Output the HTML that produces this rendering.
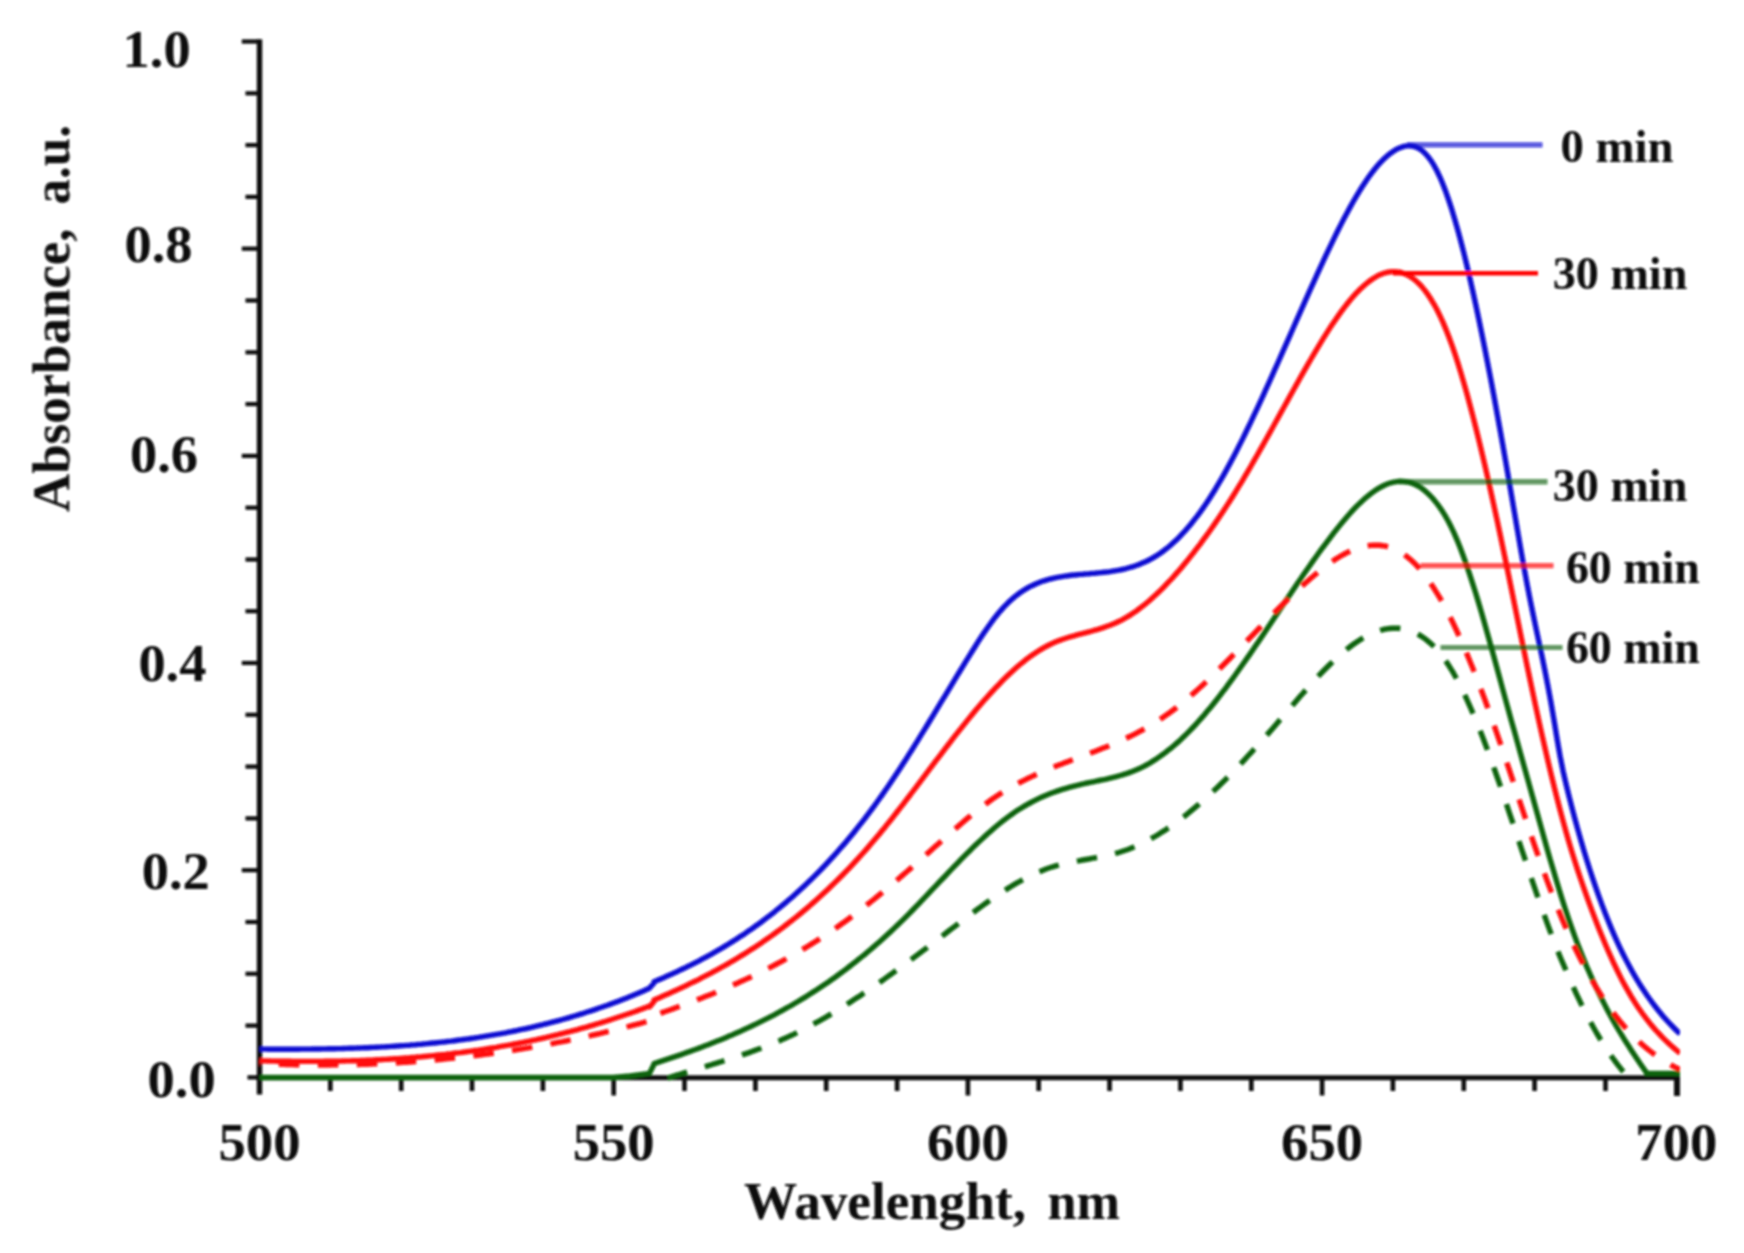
<!DOCTYPE html>
<html lang="en"><head><meta charset="utf-8"><title>Absorbance spectra</title>
<style>html,body{margin:0;padding:0;background:#fff;overflow:hidden}svg{display:block}</style></head>
<body>
<svg width="1744" height="1253" viewBox="0 0 1744 1253">
<rect width="1744" height="1253" fill="#fff"/>
<g filter="url(#bl)">
<g stroke="#0a0a0a" fill="none">
<path d="M259.5,39.3 V1094.5" stroke-width="5.4"/>
<path d="M256.8,1077.7 H1679.8999999999999" stroke-width="5.0"/>
<path d="M247.5,1077.4 H259.5" stroke-width="4.2"/>
<path d="M245.5,1025.6 H259.5" stroke-width="4.2"/>
<path d="M245.5,973.8 H259.5" stroke-width="4.2"/>
<path d="M245.5,922.0 H259.5" stroke-width="4.2"/>
<path d="M241.8,870.2 H259.5" stroke-width="4.2"/>
<path d="M245.5,818.4 H259.5" stroke-width="4.2"/>
<path d="M245.5,766.6 H259.5" stroke-width="4.2"/>
<path d="M245.5,714.8 H259.5" stroke-width="4.2"/>
<path d="M241.8,663.0 H259.5" stroke-width="4.2"/>
<path d="M245.5,611.2 H259.5" stroke-width="4.2"/>
<path d="M245.5,559.5 H259.5" stroke-width="4.2"/>
<path d="M245.5,507.7 H259.5" stroke-width="4.2"/>
<path d="M241.8,455.9 H259.5" stroke-width="4.2"/>
<path d="M245.5,404.1 H259.5" stroke-width="4.2"/>
<path d="M245.5,352.3 H259.5" stroke-width="4.2"/>
<path d="M245.5,300.5 H259.5" stroke-width="4.2"/>
<path d="M241.8,248.7 H259.5" stroke-width="4.2"/>
<path d="M245.5,196.9 H259.5" stroke-width="4.2"/>
<path d="M245.5,145.1 H259.5" stroke-width="4.2"/>
<path d="M245.5,93.3 H259.5" stroke-width="4.2"/>
<path d="M241.8,41.5 H259.5" stroke-width="4.2"/>
<path d="M330.3,1077.4 V1091" stroke-width="4.6"/>
<path d="M401.2,1077.4 V1091" stroke-width="4.6"/>
<path d="M472.0,1077.4 V1091" stroke-width="4.6"/>
<path d="M542.9,1077.4 V1091" stroke-width="4.6"/>
<path d="M613.7,1077.4 V1095.5" stroke-width="4.6"/>
<path d="M684.5,1077.4 V1091" stroke-width="4.6"/>
<path d="M755.4,1077.4 V1091" stroke-width="4.6"/>
<path d="M826.2,1077.4 V1091" stroke-width="4.6"/>
<path d="M897.1,1077.4 V1091" stroke-width="4.6"/>
<path d="M967.9,1077.4 V1095.5" stroke-width="4.6"/>
<path d="M1038.7,1077.4 V1091" stroke-width="4.6"/>
<path d="M1109.6,1077.4 V1091" stroke-width="4.6"/>
<path d="M1180.4,1077.4 V1091" stroke-width="4.6"/>
<path d="M1251.3,1077.4 V1091" stroke-width="4.6"/>
<path d="M1322.1,1077.4 V1095.5" stroke-width="4.6"/>
<path d="M1392.9,1077.4 V1091" stroke-width="4.6"/>
<path d="M1463.8,1077.4 V1091" stroke-width="4.6"/>
<path d="M1534.6,1077.4 V1091" stroke-width="4.6"/>
<path d="M1605.5,1077.4 V1091" stroke-width="4.6"/>
<path d="M1677,1077.4 V1096.0" stroke-width="6"/>
</g>
<g fill="none" stroke-linejoin="round">
<clipPath id="cp"><rect x="256" y="0" width="1424" height="1082"/></clipPath>
<g clip-path="url(#cp)">
<path d="M667.8,1078.1 L670.8,1077.1 L673.8,1076.1 L676.8,1075.2 L679.8,1074.3 L682.8,1073.3 L685.8,1072.4 L688.8,1071.5 L691.9,1070.6 L694.9,1069.7 L697.9,1068.8 L700.9,1067.9 L703.9,1067.0 L706.9,1066.1 L709.9,1065.2 L712.9,1064.2 L715.9,1063.3 L718.9,1062.4 L721.9,1061.5 L724.9,1060.5 L727.9,1059.6 L730.9,1058.6 L734.0,1057.6 L737.0,1056.7 L740.0,1055.7 L743.0,1054.6 L746.0,1053.6 L749.0,1052.6 L752.0,1051.5 L755.0,1050.4 L758.0,1049.3 L761.0,1048.2 L764.0,1047.0 L767.0,1045.9 L770.0,1044.7 L773.0,1043.5 L776.0,1042.2 L779.1,1040.9 L782.1,1039.6 L785.1,1038.3 L788.1,1036.9 L791.1,1035.5 L794.1,1034.1 L797.1,1032.6 L800.1,1031.1 L803.1,1029.6 L806.1,1028.1 L809.1,1026.5 L812.1,1024.9 L815.1,1023.2 L818.1,1021.6 L821.2,1019.9 L824.2,1018.2 L827.2,1016.4 L830.2,1014.6 L833.2,1012.8 L836.2,1011.0 L839.2,1009.2 L842.2,1007.3 L845.2,1005.4 L848.2,1003.5 L851.2,1001.6 L854.2,999.6 L857.2,997.6 L860.2,995.7 L863.2,993.6 L866.3,991.6 L869.3,989.6 L872.3,987.5 L875.3,985.4 L878.3,983.3 L881.3,981.2 L884.3,979.1 L887.3,976.9 L890.3,974.8 L893.3,972.6 L896.3,970.4 L899.3,968.2 L902.3,966.0 L905.3,963.8 L908.4,961.6 L911.4,959.4 L914.4,957.1 L917.4,954.9 L920.4,952.6 L923.4,950.4 L926.4,948.1 L929.4,945.8 L932.4,943.5 L935.4,941.2 L938.4,938.9 L941.4,936.6 L944.4,934.3 L947.4,932.0 L950.4,929.7 L953.5,927.4 L956.5,925.1 L959.5,922.8 L962.5,920.5 L965.5,918.3 L968.5,916.0 L971.5,913.7 L974.5,911.5 L977.5,909.3 L980.5,907.1 L983.5,904.9 L986.5,902.7 L989.5,900.6 L992.5,898.5 L995.6,896.5 L998.6,894.4 L1001.6,892.4 L1004.6,890.5 L1007.6,888.6 L1010.6,886.7 L1013.6,884.9 L1016.6,883.2 L1019.6,881.5 L1022.6,879.8 L1025.6,878.2 L1028.6,876.7 L1031.6,875.2 L1034.6,873.8 L1037.6,872.4 L1040.7,871.2 L1043.7,870.0 L1046.7,868.8 L1049.7,867.8 L1052.7,866.8 L1055.7,865.9 L1058.7,865.1 L1061.7,864.3 L1064.7,863.6 L1067.7,862.9 L1070.7,862.3 L1073.7,861.7 L1076.7,861.1 L1079.7,860.6 L1082.8,860.0 L1085.8,859.5 L1088.8,859.0 L1091.8,858.4 L1094.8,857.9 L1097.8,857.4 L1100.8,856.8 L1103.8,856.2 L1106.8,855.5 L1109.8,854.8 L1112.8,854.1 L1115.8,853.3 L1118.8,852.5 L1121.8,851.5 L1124.8,850.5 L1127.9,849.5 L1130.9,848.3 L1133.9,847.1 L1136.9,845.8 L1139.9,844.4 L1142.9,843.0 L1145.9,841.4 L1148.9,839.9 L1151.9,838.2 L1154.9,836.5 L1157.9,834.7 L1160.9,832.8 L1163.9,830.9 L1166.9,828.9 L1170.0,826.9 L1173.0,824.8 L1176.0,822.6 L1179.0,820.4 L1182.0,818.1 L1185.0,815.8 L1188.0,813.4 L1191.0,810.9 L1194.0,808.4 L1197.0,805.9 L1200.0,803.3 L1203.0,800.6 L1206.0,797.9 L1209.0,795.2 L1212.0,792.4 L1215.1,789.6 L1218.1,786.7 L1221.1,783.8 L1224.1,780.8 L1227.1,777.8 L1230.1,774.8 L1233.1,771.7 L1236.1,768.6 L1239.1,765.5 L1242.1,762.3 L1245.1,759.1 L1248.1,755.8 L1251.1,752.6 L1254.1,749.3 L1257.2,745.9 L1260.2,742.6 L1263.2,739.2 L1266.2,735.8 L1269.2,732.4 L1272.2,728.9 L1275.2,725.4 L1278.2,721.9 L1281.2,718.4 L1284.2,714.9 L1287.2,711.4 L1290.2,707.9 L1293.2,704.4 L1296.2,700.9 L1299.2,697.4 L1302.3,694.0 L1305.3,690.6 L1308.3,687.2 L1311.3,683.9 L1314.3,680.6 L1317.3,677.3 L1320.3,674.1 L1323.3,671.0 L1326.3,668.0 L1329.3,665.0 L1332.3,662.1 L1335.3,659.2 L1338.3,656.5 L1341.3,653.8 L1344.4,651.3 L1347.4,648.8 L1350.4,646.5 L1353.4,644.3 L1356.4,642.2 L1359.4,640.2 L1362.4,638.4 L1365.4,636.7 L1368.4,635.1 L1371.4,633.7 L1374.4,632.4 L1377.4,631.3 L1380.4,630.3 L1383.4,629.5 L1386.4,628.9 L1389.5,628.5 L1392.5,628.2 L1395.5,628.2 L1398.5,628.3 L1401.5,628.6 L1404.5,629.1 L1407.5,629.9 L1410.5,630.8 L1413.5,632.0 L1416.5,633.4 L1419.5,635.1 L1422.5,637.0 L1425.5,639.1 L1428.5,641.6 L1431.6,644.3 L1434.6,647.2 L1437.6,650.5 L1440.6,654.1 L1443.6,658.0 L1446.6,662.2 L1449.6,666.8 L1452.6,671.7 L1455.6,677.0 L1458.6,682.5 L1461.6,688.4 L1464.6,694.6 L1467.6,701.1 L1470.6,707.8 L1473.6,714.9 L1476.7,722.1 L1479.7,729.6 L1482.7,737.3 L1485.7,745.2 L1488.7,753.3 L1491.7,761.6 L1494.7,770.0 L1497.7,778.5 L1500.7,787.2 L1503.7,796.0 L1506.7,804.9 L1509.7,813.8 L1512.7,822.7 L1515.7,831.7 L1518.8,840.8 L1521.8,849.8 L1524.8,858.7 L1527.8,867.7 L1530.8,876.6 L1533.8,885.4 L1536.8,894.1 L1539.8,902.7 L1542.8,911.1 L1545.8,919.4 L1548.8,927.6 L1551.8,935.6 L1554.8,943.3 L1557.8,951.0 L1560.8,958.4 L1563.9,965.6 L1566.9,972.7 L1569.9,979.6 L1572.9,986.3 L1575.9,992.9 L1578.9,999.2 L1581.9,1005.4 L1584.9,1011.4 L1587.9,1017.2 L1590.9,1022.8 L1593.9,1028.2 L1596.9,1033.5 L1599.9,1038.5 L1602.9,1043.4 L1606.0,1048.1 L1609.0,1052.6 L1612.0,1057.0 L1615.0,1061.1 L1618.0,1065.1 L1621.0,1068.9 L1624.0,1072.4 L1627.0,1075.8" stroke="#0b640b" stroke-width="5.4" stroke-dasharray="20.5 18.5" stroke-dashoffset="0.25"/>
<path d="M259.5,1077.5 L613.0,1077.5 L630.0,1076.0 L649.5,1073.4 L654.0,1064.2 L654.0,1063.5 L657.0,1062.6 L660.0,1061.6 L663.0,1060.6 L666.0,1059.6 L669.0,1058.6 L672.0,1057.6 L675.1,1056.6 L678.1,1055.6 L681.1,1054.6 L684.1,1053.5 L687.1,1052.4 L690.1,1051.4 L693.1,1050.3 L696.1,1049.2 L699.1,1048.1 L702.1,1047.0 L705.1,1045.8 L708.1,1044.7 L711.1,1043.5 L714.2,1042.3 L717.2,1041.1 L720.2,1039.9 L723.2,1038.7 L726.2,1037.4 L729.2,1036.1 L732.2,1034.9 L735.2,1033.5 L738.2,1032.2 L741.2,1030.9 L744.2,1029.5 L747.2,1028.1 L750.3,1026.7 L753.3,1025.3 L756.3,1023.9 L759.3,1022.4 L762.3,1020.9 L765.3,1019.4 L768.3,1017.9 L771.3,1016.3 L774.3,1014.8 L777.3,1013.2 L780.3,1011.5 L783.3,1009.9 L786.3,1008.2 L789.4,1006.5 L792.4,1004.8 L795.4,1003.0 L798.4,1001.2 L801.4,999.4 L804.4,997.6 L807.4,995.7 L810.4,993.8 L813.4,991.9 L816.4,990.0 L819.4,988.0 L822.4,986.0 L825.4,984.0 L828.5,981.9 L831.5,979.8 L834.5,977.7 L837.5,975.5 L840.5,973.3 L843.5,971.1 L846.5,968.8 L849.5,966.5 L852.5,964.2 L855.5,961.8 L858.5,959.4 L861.5,957.0 L864.6,954.6 L867.6,952.0 L870.6,949.5 L873.6,946.9 L876.6,944.3 L879.6,941.7 L882.6,939.0 L885.6,936.3 L888.6,933.5 L891.6,930.7 L894.6,927.9 L897.6,925.0 L900.6,922.1 L903.7,919.1 L906.7,916.1 L909.7,913.1 L912.7,910.0 L915.7,906.9 L918.7,903.8 L921.7,900.7 L924.7,897.5 L927.7,894.4 L930.7,891.2 L933.7,888.0 L936.7,884.9 L939.7,881.7 L942.8,878.5 L945.8,875.3 L948.8,872.2 L951.8,869.0 L954.8,865.9 L957.8,862.8 L960.8,859.7 L963.8,856.7 L966.8,853.6 L969.8,850.7 L972.8,847.7 L975.8,844.8 L978.9,841.9 L981.9,839.1 L984.9,836.3 L987.9,833.6 L990.9,830.9 L993.9,828.3 L996.9,825.8 L999.9,823.3 L1002.9,820.9 L1005.9,818.6 L1008.9,816.4 L1011.9,814.2 L1014.9,812.1 L1018.0,810.1 L1021.0,808.2 L1024.0,806.4 L1027.0,804.6 L1030.0,803.0 L1033.0,801.4 L1036.0,799.9 L1039.0,798.4 L1042.0,797.0 L1045.0,795.7 L1048.0,794.5 L1051.0,793.3 L1054.0,792.2 L1057.1,791.1 L1060.1,790.1 L1063.1,789.2 L1066.1,788.3 L1069.1,787.4 L1072.1,786.6 L1075.1,785.8 L1078.1,785.1 L1081.1,784.3 L1084.1,783.7 L1087.1,783.0 L1090.1,782.4 L1093.2,781.8 L1096.2,781.2 L1099.2,780.5 L1102.2,779.9 L1105.2,779.3 L1108.2,778.6 L1111.2,777.9 L1114.2,777.2 L1117.2,776.4 L1120.2,775.5 L1123.2,774.6 L1126.2,773.7 L1129.2,772.6 L1132.3,771.5 L1135.3,770.3 L1138.3,769.0 L1141.3,767.6 L1144.3,766.1 L1147.3,764.5 L1150.3,762.8 L1153.3,760.9 L1156.3,759.0 L1159.3,756.9 L1162.3,754.8 L1165.3,752.6 L1168.3,750.2 L1171.4,747.8 L1174.4,745.2 L1177.4,742.6 L1180.4,739.9 L1183.4,737.0 L1186.4,734.1 L1189.4,731.1 L1192.4,728.0 L1195.4,724.8 L1198.4,721.5 L1201.4,718.1 L1204.4,714.7 L1207.4,711.1 L1210.5,707.5 L1213.5,703.8 L1216.5,700.0 L1219.5,696.2 L1222.5,692.2 L1225.5,688.3 L1228.5,684.2 L1231.5,680.1 L1234.5,676.0 L1237.5,671.8 L1240.5,667.5 L1243.5,663.3 L1246.6,658.9 L1249.6,654.6 L1252.6,650.2 L1255.6,645.8 L1258.6,641.4 L1261.6,636.9 L1264.6,632.4 L1267.6,627.9 L1270.6,623.4 L1273.6,618.9 L1276.6,614.4 L1279.6,609.9 L1282.6,605.4 L1285.7,600.9 L1288.7,596.4 L1291.7,592.0 L1294.7,587.5 L1297.7,583.1 L1300.7,578.7 L1303.7,574.3 L1306.7,570.0 L1309.7,565.7 L1312.7,561.4 L1315.7,557.2 L1318.7,553.0 L1321.7,548.9 L1324.8,544.8 L1327.8,540.8 L1330.8,536.8 L1333.8,532.9 L1336.8,529.1 L1339.8,525.4 L1342.8,521.7 L1345.8,518.2 L1348.8,514.7 L1351.8,511.4 L1354.8,508.2 L1357.8,505.1 L1360.9,502.2 L1363.9,499.4 L1366.9,496.8 L1369.9,494.4 L1372.9,492.1 L1375.9,490.0 L1378.9,488.1 L1381.9,486.5 L1384.9,485.0 L1387.9,483.8 L1390.9,482.8 L1393.9,482.1 L1396.9,481.6 L1400.0,481.3 L1403.0,481.4 L1406.0,481.7 L1409.0,482.3 L1412.0,483.2 L1415.0,484.4 L1418.0,486.0 L1421.0,487.8 L1424.0,490.0 L1427.0,492.6 L1430.0,495.5 L1433.0,498.7 L1436.0,502.4 L1439.1,506.4 L1442.1,510.8 L1445.1,515.7 L1448.1,521.0 L1451.1,526.8 L1454.1,533.2 L1457.1,540.1 L1460.1,547.5 L1463.1,555.5 L1466.1,563.9 L1469.1,572.7 L1472.1,581.9 L1475.2,591.5 L1478.2,601.4 L1481.2,611.6 L1484.2,622.0 L1487.2,632.7 L1490.2,643.4 L1493.2,654.3 L1496.2,665.3 L1499.2,676.3 L1502.2,687.4 L1505.2,698.4 L1508.2,709.3 L1511.2,720.2 L1514.3,731.1 L1517.3,741.9 L1520.3,752.7 L1523.3,763.4 L1526.3,774.2 L1529.3,784.9 L1532.3,795.7 L1535.3,806.4 L1538.3,817.2 L1541.3,828.0 L1544.3,838.7 L1547.3,849.4 L1550.3,859.9 L1553.4,870.3 L1556.4,880.5 L1559.4,890.4 L1562.4,900.1 L1565.4,909.4 L1568.4,918.3 L1571.4,927.0 L1574.4,935.3 L1577.4,943.4 L1580.4,951.1 L1583.4,958.6 L1586.4,965.9 L1589.5,972.9 L1592.5,979.6 L1595.5,986.1 L1598.5,992.4 L1601.5,998.5 L1604.5,1004.4 L1607.5,1010.2 L1610.5,1015.7 L1613.5,1021.1 L1616.5,1026.4 L1619.5,1031.5 L1622.5,1036.4 L1625.5,1041.3 L1628.6,1046.0 L1631.6,1050.7 L1634.6,1055.3 L1637.6,1059.8 L1640.6,1064.2 L1643.6,1068.6 L1646.6,1072.9 L1646.6,1073.5 L1680.0,1073.5" stroke="#0b640b" stroke-width="5.4"/>
<path d="M259.5,1063.5 L262.5,1063.6 L265.5,1063.7 L268.5,1063.9 L271.5,1064.0 L274.5,1064.1 L277.5,1064.2 L280.5,1064.3 L283.5,1064.4 L286.5,1064.5 L289.5,1064.6 L292.5,1064.6 L295.5,1064.7 L298.5,1064.8 L301.5,1064.8 L304.5,1064.9 L307.5,1064.9 L310.5,1064.9 L313.5,1064.9 L316.5,1065.0 L319.5,1065.0 L322.5,1065.0 L325.5,1065.0 L328.5,1065.0 L331.5,1064.9 L334.5,1064.9 L337.5,1064.9 L340.5,1064.8 L343.5,1064.8 L346.5,1064.7 L349.5,1064.7 L352.5,1064.6 L355.5,1064.5 L358.5,1064.5 L361.5,1064.4 L364.5,1064.3 L367.5,1064.2 L370.5,1064.1 L373.5,1063.9 L376.5,1063.8 L379.5,1063.7 L382.5,1063.5 L385.5,1063.4 L388.5,1063.2 L391.5,1063.1 L394.5,1062.9 L397.5,1062.7 L400.5,1062.6 L403.5,1062.4 L406.5,1062.2 L409.5,1062.0 L412.5,1061.8 L415.5,1061.5 L418.5,1061.3 L421.5,1061.1 L424.5,1060.8 L427.5,1060.6 L430.5,1060.3 L433.5,1060.1 L436.5,1059.8 L439.5,1059.5 L442.5,1059.2 L445.5,1058.9 L448.5,1058.6 L451.5,1058.3 L454.5,1058.0 L457.5,1057.7 L460.5,1057.4 L463.5,1057.0 L466.5,1056.7 L469.5,1056.3 L472.5,1056.0 L475.5,1055.6 L478.5,1055.2 L481.5,1054.8 L484.5,1054.4 L487.5,1054.0 L490.5,1053.6 L493.5,1053.2 L496.5,1052.8 L499.5,1052.4 L502.5,1051.9 L505.5,1051.5 L508.5,1051.0 L511.5,1050.6 L514.5,1050.1 L517.5,1049.6 L520.5,1049.1 L523.5,1048.6 L526.5,1048.1 L529.5,1047.6 L532.5,1047.1 L535.5,1046.6 L538.5,1046.1 L541.5,1045.5 L544.5,1045.0 L547.5,1044.4 L550.5,1043.9 L553.5,1043.3 L556.5,1042.7 L559.5,1042.1 L562.5,1041.6 L565.5,1041.0 L568.5,1040.3 L571.5,1039.7 L574.5,1039.1 L577.5,1038.5 L580.5,1037.8 L583.5,1037.2 L586.5,1036.5 L589.5,1035.9 L592.5,1035.2 L595.5,1034.5 L598.5,1033.8 L601.5,1033.1 L604.5,1032.4 L607.5,1031.7 L610.5,1031.0 L613.5,1030.3 L616.5,1029.5 L619.5,1028.8 L622.5,1028.0 L625.5,1027.3 L628.5,1026.5 L631.5,1025.7 L634.5,1024.9 L637.5,1024.1 L640.5,1023.3 L643.5,1022.5 L646.5,1021.7 L649.5,1020.9 L649.5,1017.1 L652.5,1016.0 L655.5,1015.0 L658.5,1014.0 L661.5,1012.9 L664.5,1011.8 L667.5,1010.8 L670.5,1009.7 L673.5,1008.6 L676.5,1007.5 L679.5,1006.4 L682.5,1005.3 L685.6,1004.2 L688.6,1003.1 L691.6,1001.9 L694.6,1000.8 L697.6,999.6 L700.6,998.5 L703.6,997.3 L706.6,996.1 L709.6,994.9 L712.6,993.7 L715.6,992.5 L718.6,991.2 L721.6,990.0 L724.6,988.7 L727.6,987.4 L730.6,986.1 L733.6,984.8 L736.6,983.5 L739.6,982.1 L742.6,980.8 L745.6,979.4 L748.6,978.0 L751.6,976.6 L754.7,975.1 L757.7,973.7 L760.7,972.2 L763.7,970.7 L766.7,969.2 L769.7,967.7 L772.7,966.1 L775.7,964.5 L778.7,962.9 L781.7,961.3 L784.7,959.7 L787.7,958.0 L790.7,956.4 L793.7,954.6 L796.7,952.9 L799.7,951.2 L802.7,949.4 L805.7,947.6 L808.7,945.8 L811.7,943.9 L814.7,942.0 L817.7,940.1 L820.7,938.2 L823.8,936.2 L826.8,934.2 L829.8,932.2 L832.8,930.2 L835.8,928.1 L838.8,926.0 L841.8,923.8 L844.8,921.7 L847.8,919.5 L850.8,917.3 L853.8,915.0 L856.8,912.7 L859.8,910.4 L862.8,908.1 L865.8,905.8 L868.8,903.4 L871.8,901.0 L874.8,898.6 L877.8,896.1 L880.8,893.7 L883.8,891.2 L886.8,888.7 L889.8,886.2 L892.9,883.6 L895.9,881.1 L898.9,878.5 L901.9,875.9 L904.9,873.3 L907.9,870.7 L910.9,868.1 L913.9,865.5 L916.9,862.8 L919.9,860.2 L922.9,857.5 L925.9,854.9 L928.9,852.2 L931.9,849.5 L934.9,846.8 L937.9,844.2 L940.9,841.5 L943.9,838.8 L946.9,836.1 L949.9,833.5 L952.9,830.8 L955.9,828.2 L959.0,825.6 L962.0,823.0 L965.0,820.4 L968.0,817.9 L971.0,815.4 L974.0,813.0 L977.0,810.6 L980.0,808.2 L983.0,805.9 L986.0,803.7 L989.0,801.5 L992.0,799.3 L995.0,797.3 L998.0,795.3 L1001.0,793.3 L1004.0,791.4 L1007.0,789.6 L1010.0,787.9 L1013.0,786.2 L1016.0,784.5 L1019.0,782.9 L1022.0,781.3 L1025.0,779.8 L1028.1,778.3 L1031.1,776.9 L1034.1,775.5 L1037.1,774.1 L1040.1,772.8 L1043.1,771.5 L1046.1,770.2 L1049.1,769.0 L1052.1,767.7 L1055.1,766.5 L1058.1,765.3 L1061.1,764.2 L1064.1,763.0 L1067.1,761.9 L1070.1,760.7 L1073.1,759.6 L1076.1,758.5 L1079.1,757.3 L1082.1,756.2 L1085.1,755.1 L1088.1,754.0 L1091.1,752.8 L1094.1,751.7 L1097.2,750.5 L1100.2,749.3 L1103.2,748.1 L1106.2,746.9 L1109.2,745.7 L1112.2,744.4 L1115.2,743.2 L1118.2,741.9 L1121.2,740.5 L1124.2,739.1 L1127.2,737.7 L1130.2,736.3 L1133.2,734.8 L1136.2,733.3 L1139.2,731.7 L1142.2,730.1 L1145.2,728.4 L1148.2,726.7 L1151.2,724.9 L1154.2,723.1 L1157.2,721.2 L1160.2,719.2 L1163.2,717.2 L1166.3,715.1 L1169.3,713.0 L1172.3,710.8 L1175.3,708.5 L1178.3,706.1 L1181.3,703.7 L1184.3,701.3 L1187.3,698.7 L1190.3,696.2 L1193.3,693.5 L1196.3,690.9 L1199.3,688.1 L1202.3,685.4 L1205.3,682.6 L1208.3,679.7 L1211.3,676.8 L1214.3,673.9 L1217.3,671.0 L1220.3,668.0 L1223.3,665.0 L1226.3,662.0 L1229.3,659.0 L1232.3,655.9 L1235.4,652.9 L1238.4,649.8 L1241.4,646.7 L1244.4,643.6 L1247.4,640.5 L1250.4,637.4 L1253.4,634.3 L1256.4,631.1 L1259.4,628.0 L1262.4,625.0 L1265.4,621.9 L1268.4,618.8 L1271.4,615.7 L1274.4,612.7 L1277.4,609.7 L1280.4,606.7 L1283.4,603.7 L1286.4,600.8 L1289.4,597.9 L1292.4,595.0 L1295.4,592.1 L1298.4,589.3 L1301.4,586.6 L1304.5,583.8 L1307.5,581.2 L1310.5,578.5 L1313.5,576.0 L1316.5,573.5 L1319.5,571.0 L1322.5,568.6 L1325.5,566.3 L1328.5,564.1 L1331.5,562.0 L1334.5,559.9 L1337.5,558.0 L1340.5,556.2 L1343.5,554.5 L1346.5,552.9 L1349.5,551.5 L1352.5,550.1 L1355.5,549.0 L1358.5,547.9 L1361.5,547.0 L1364.5,546.3 L1367.5,545.8 L1370.5,545.4 L1373.6,545.2 L1376.6,545.1 L1379.6,545.3 L1382.6,545.7 L1385.6,546.2 L1388.6,547.0 L1391.6,548.0 L1394.6,549.2 L1397.6,550.7 L1400.6,552.3 L1403.6,554.2 L1406.6,556.4 L1409.6,558.8 L1412.6,561.5 L1415.6,564.4 L1418.6,567.6 L1421.6,571.1 L1424.6,574.9 L1427.6,578.9 L1430.6,583.2 L1433.6,587.8 L1436.6,592.6 L1439.7,597.6 L1442.7,603.0 L1445.7,608.5 L1448.7,614.3 L1451.7,620.3 L1454.7,626.5 L1457.7,633.0 L1460.7,639.6 L1463.7,646.4 L1466.7,653.4 L1469.7,660.7 L1472.7,668.1 L1475.7,675.6 L1478.7,683.3 L1481.7,691.2 L1484.7,699.3 L1487.7,707.5 L1490.7,715.8 L1493.7,724.3 L1496.7,732.9 L1499.7,741.6 L1502.7,750.4 L1505.7,759.3 L1508.8,768.3 L1511.8,777.4 L1514.8,786.4 L1517.8,795.5 L1520.8,804.6 L1523.8,813.6 L1526.8,822.6 L1529.8,831.5 L1532.8,840.3 L1535.8,849.0 L1538.8,857.6 L1541.8,866.1 L1544.8,874.4 L1547.8,882.6 L1550.8,890.5 L1553.8,898.4 L1556.8,906.0 L1559.8,913.4 L1562.8,920.7 L1565.8,927.7 L1568.8,934.5 L1571.8,941.1 L1574.8,947.5 L1577.9,953.7 L1580.9,959.7 L1583.9,965.5 L1586.9,971.1 L1589.9,976.5 L1592.9,981.7 L1595.9,986.8 L1598.9,991.7 L1601.9,996.4 L1604.9,1000.9 L1607.9,1005.3 L1610.9,1009.5 L1613.9,1013.5 L1616.9,1017.4 L1619.9,1021.2 L1622.9,1024.7 L1625.9,1028.2 L1628.9,1031.5 L1631.9,1034.7 L1634.9,1037.7 L1637.9,1040.6 L1640.9,1043.4 L1643.9,1046.0 L1647.0,1048.6 L1650.0,1051.0 L1653.0,1053.3 L1656.0,1055.5 L1659.0,1057.6 L1662.0,1059.6 L1665.0,1061.4 L1668.0,1063.2 L1671.0,1065.0 L1674.0,1066.6 L1677.0,1068.1 L1680.0,1069.6" stroke="#ff0a0a" stroke-width="5.4" stroke-dasharray="20.5 18.5" stroke-dashoffset="19.65"/>
<path d="M259.5,1060.8 L262.5,1060.9 L265.5,1060.9 L268.5,1061.0 L271.5,1061.1 L274.5,1061.1 L277.5,1061.2 L280.5,1061.2 L283.5,1061.3 L286.5,1061.3 L289.5,1061.3 L292.5,1061.4 L295.5,1061.4 L298.5,1061.4 L301.5,1061.4 L304.5,1061.4 L307.5,1061.4 L310.5,1061.4 L313.5,1061.4 L316.5,1061.4 L319.5,1061.4 L322.5,1061.4 L325.5,1061.3 L328.5,1061.3 L331.5,1061.3 L334.5,1061.2 L337.5,1061.2 L340.5,1061.1 L343.5,1061.0 L346.5,1060.9 L349.5,1060.9 L352.5,1060.8 L355.5,1060.7 L358.5,1060.6 L361.5,1060.5 L364.5,1060.4 L367.5,1060.2 L370.5,1060.1 L373.5,1060.0 L376.5,1059.8 L379.5,1059.7 L382.5,1059.5 L385.5,1059.4 L388.5,1059.2 L391.5,1059.0 L394.5,1058.8 L397.5,1058.6 L400.5,1058.4 L403.5,1058.2 L406.5,1058.0 L409.5,1057.8 L412.5,1057.5 L415.5,1057.3 L418.5,1057.0 L421.5,1056.8 L424.5,1056.5 L427.5,1056.2 L430.5,1055.9 L433.5,1055.6 L436.5,1055.3 L439.5,1055.0 L442.5,1054.7 L445.5,1054.4 L448.5,1054.0 L451.5,1053.7 L454.5,1053.3 L457.5,1052.9 L460.5,1052.6 L463.5,1052.2 L466.5,1051.8 L469.5,1051.4 L472.5,1051.0 L475.5,1050.5 L478.5,1050.1 L481.5,1049.6 L484.5,1049.2 L487.5,1048.7 L490.5,1048.2 L493.5,1047.8 L496.5,1047.3 L499.5,1046.7 L502.5,1046.2 L505.5,1045.7 L508.5,1045.2 L511.5,1044.6 L514.5,1044.0 L517.5,1043.5 L520.5,1042.9 L523.5,1042.3 L526.5,1041.7 L529.5,1041.1 L532.5,1040.4 L535.5,1039.8 L538.5,1039.1 L541.5,1038.5 L544.5,1037.8 L547.5,1037.1 L550.5,1036.4 L553.5,1035.7 L556.5,1035.0 L559.5,1034.2 L562.5,1033.5 L565.5,1032.7 L568.5,1032.0 L571.5,1031.2 L574.5,1030.4 L577.5,1029.6 L580.5,1028.7 L583.5,1027.9 L586.5,1027.1 L589.5,1026.2 L592.5,1025.3 L595.5,1024.4 L598.5,1023.5 L601.5,1022.6 L604.5,1021.7 L607.5,1020.7 L610.5,1019.8 L613.5,1018.8 L616.5,1017.8 L619.5,1016.8 L622.5,1015.8 L625.5,1014.8 L628.5,1013.8 L631.5,1012.7 L634.5,1011.7 L637.5,1010.6 L640.5,1009.5 L643.5,1008.4 L646.5,1007.3 L649.5,1006.1 L649.5,1006.9 L654.0,1001.5 L654.0,1000.0 L657.0,998.7 L660.0,997.4 L663.0,996.1 L666.0,994.8 L669.0,993.5 L672.0,992.1 L675.0,990.8 L678.0,989.4 L681.0,988.0 L684.0,986.6 L687.0,985.2 L690.0,983.7 L693.0,982.2 L696.0,980.8 L699.0,979.3 L702.0,977.7 L705.0,976.2 L708.0,974.6 L711.0,973.1 L714.0,971.4 L717.0,969.8 L720.0,968.2 L723.0,966.5 L726.0,964.8 L729.0,963.1 L732.0,961.3 L735.0,959.6 L738.0,957.8 L741.0,955.9 L744.0,954.1 L747.0,952.2 L750.0,950.3 L753.0,948.4 L756.0,946.4 L759.0,944.4 L762.0,942.4 L765.0,940.3 L768.0,938.2 L771.0,936.1 L774.0,934.0 L777.0,931.8 L780.0,929.6 L783.0,927.3 L786.0,925.0 L789.0,922.7 L792.0,920.4 L795.0,918.0 L798.0,915.6 L801.0,913.1 L804.0,910.6 L807.0,908.1 L810.0,905.5 L813.0,902.9 L816.0,900.2 L819.0,897.5 L822.0,894.8 L825.0,892.0 L828.0,889.2 L831.0,886.3 L834.0,883.4 L837.0,880.5 L840.0,877.5 L843.0,874.5 L846.0,871.4 L849.0,868.3 L852.0,865.1 L855.0,861.9 L858.0,858.6 L861.0,855.3 L864.0,852.0 L867.0,848.6 L870.0,845.1 L873.0,841.6 L876.0,838.1 L879.0,834.5 L882.0,830.8 L885.0,827.2 L888.0,823.4 L891.0,819.7 L894.0,815.9 L897.0,812.0 L900.0,808.2 L903.0,804.3 L906.0,800.4 L909.0,796.5 L912.0,792.5 L915.0,788.6 L918.0,784.6 L921.0,780.6 L924.0,776.6 L927.0,772.7 L930.0,768.7 L933.0,764.7 L936.0,760.7 L939.0,756.8 L942.0,752.8 L945.0,748.9 L948.0,745.0 L951.0,741.1 L954.0,737.2 L957.0,733.4 L960.0,729.6 L963.0,725.8 L966.0,722.1 L969.0,718.4 L972.0,714.7 L975.0,711.1 L978.0,707.6 L981.0,704.1 L984.0,700.6 L987.0,697.2 L990.0,693.9 L993.0,690.6 L996.0,687.4 L999.0,684.3 L1002.0,681.2 L1005.0,678.2 L1008.0,675.3 L1011.0,672.5 L1014.0,669.8 L1017.0,667.1 L1020.0,664.5 L1023.0,662.1 L1026.0,659.7 L1029.0,657.4 L1032.0,655.2 L1035.0,653.2 L1038.0,651.2 L1041.0,649.4 L1044.0,647.6 L1047.0,646.0 L1050.0,644.5 L1053.0,643.1 L1056.0,641.8 L1059.0,640.6 L1062.0,639.5 L1065.0,638.5 L1068.0,637.5 L1071.0,636.6 L1074.0,635.8 L1077.0,634.9 L1080.0,634.1 L1083.0,633.4 L1086.0,632.6 L1089.0,631.8 L1092.0,631.0 L1095.0,630.1 L1098.0,629.3 L1101.0,628.4 L1104.0,627.4 L1107.0,626.3 L1110.0,625.2 L1113.0,624.0 L1116.0,622.7 L1119.0,621.3 L1122.0,619.8 L1125.0,618.2 L1128.0,616.4 L1131.0,614.6 L1134.0,612.6 L1137.0,610.5 L1140.0,608.2 L1143.0,605.9 L1146.0,603.5 L1149.0,601.0 L1152.0,598.3 L1155.0,595.6 L1158.0,592.8 L1161.0,589.9 L1164.0,586.8 L1167.0,583.7 L1170.0,580.5 L1173.0,577.3 L1176.0,573.9 L1179.0,570.5 L1182.0,566.9 L1185.0,563.3 L1188.0,559.7 L1191.0,555.9 L1194.0,552.1 L1197.0,548.2 L1200.0,544.3 L1203.0,540.2 L1206.0,536.1 L1209.0,532.0 L1212.0,527.7 L1215.0,523.4 L1218.0,519.0 L1221.0,514.5 L1224.0,510.0 L1227.0,505.4 L1230.0,500.7 L1233.0,496.0 L1236.0,491.1 L1239.0,486.2 L1242.0,481.3 L1245.0,476.2 L1248.0,471.1 L1251.0,466.0 L1254.0,460.7 L1257.0,455.5 L1260.0,450.2 L1263.0,444.9 L1266.0,439.5 L1269.0,434.1 L1272.0,428.7 L1275.0,423.3 L1278.0,417.9 L1281.0,412.4 L1284.0,407.0 L1287.0,401.6 L1290.0,396.1 L1293.0,390.7 L1296.0,385.4 L1299.0,380.0 L1302.0,374.7 L1305.0,369.4 L1308.0,364.2 L1311.0,359.0 L1314.0,353.9 L1317.0,348.8 L1320.0,343.8 L1323.0,338.9 L1326.0,334.1 L1329.0,329.4 L1332.0,324.8 L1335.0,320.4 L1338.0,316.1 L1341.0,311.9 L1344.0,307.8 L1347.0,304.0 L1350.0,300.3 L1353.0,296.8 L1356.0,293.4 L1359.0,290.3 L1362.0,287.4 L1365.0,284.7 L1368.0,282.2 L1371.0,280.0 L1374.0,278.0 L1377.0,276.2 L1380.0,274.7 L1383.0,273.5 L1386.0,272.6 L1389.0,272.0 L1392.0,271.6 L1395.0,271.6 L1398.0,271.9 L1401.0,272.5 L1404.0,273.5 L1407.0,274.8 L1410.0,276.5 L1413.0,278.5 L1416.0,280.9 L1419.0,283.7 L1422.0,286.9 L1425.0,290.6 L1428.0,294.7 L1431.0,299.3 L1434.0,304.3 L1437.0,309.8 L1440.0,315.9 L1443.0,322.4 L1446.0,329.6 L1449.0,337.2 L1452.0,345.4 L1455.0,354.2 L1458.0,363.4 L1461.0,373.2 L1464.0,383.4 L1467.0,394.1 L1470.0,405.2 L1473.0,416.6 L1476.0,428.5 L1479.0,440.6 L1482.0,453.1 L1485.0,465.9 L1488.0,479.0 L1491.0,492.4 L1494.0,506.0 L1497.0,519.8 L1500.0,533.9 L1503.0,548.2 L1506.0,562.6 L1509.0,577.3 L1512.0,592.0 L1515.0,606.7 L1518.0,621.5 L1521.0,636.2 L1524.0,650.8 L1527.0,665.3 L1530.0,679.6 L1533.0,693.8 L1536.0,707.7 L1539.0,721.5 L1542.0,735.0 L1545.0,748.2 L1548.0,761.1 L1551.0,773.8 L1554.0,786.1 L1557.0,798.1 L1560.0,809.7 L1563.0,820.9 L1566.0,831.8 L1569.0,842.2 L1572.0,852.2 L1575.0,861.8 L1578.0,871.1 L1581.0,880.0 L1584.0,888.7 L1587.0,897.2 L1590.0,905.4 L1593.0,913.4 L1596.0,921.3 L1599.0,928.9 L1602.0,936.3 L1605.0,943.5 L1608.0,950.5 L1611.0,957.2 L1614.0,963.8 L1617.0,970.0 L1620.0,976.1 L1623.0,981.9 L1626.0,987.4 L1629.0,992.7 L1632.0,997.8 L1635.0,1002.6 L1638.0,1007.2 L1641.0,1011.5 L1644.0,1015.7 L1647.0,1019.6 L1650.0,1023.4 L1653.0,1027.0 L1656.0,1030.5 L1659.0,1033.7 L1662.0,1036.9 L1665.0,1039.9 L1668.0,1042.7 L1671.0,1045.5 L1674.0,1048.1 L1677.0,1050.7 L1680.0,1053.2" stroke="#ff0a0a" stroke-width="5.4"/>
<path d="M259.5,1049.1 L262.5,1049.1 L265.5,1049.1 L268.5,1049.2 L271.5,1049.2 L274.5,1049.2 L277.5,1049.2 L280.5,1049.2 L283.5,1049.2 L286.5,1049.2 L289.5,1049.2 L292.5,1049.2 L295.5,1049.2 L298.5,1049.2 L301.5,1049.1 L304.5,1049.1 L307.5,1049.1 L310.5,1049.1 L313.5,1049.0 L316.5,1049.0 L319.5,1049.0 L322.5,1048.9 L325.5,1048.9 L328.5,1048.8 L331.5,1048.8 L334.5,1048.7 L337.5,1048.6 L340.5,1048.6 L343.5,1048.5 L346.5,1048.4 L349.5,1048.3 L352.5,1048.2 L355.5,1048.1 L358.5,1048.0 L361.5,1047.9 L364.5,1047.8 L367.5,1047.7 L370.5,1047.5 L373.5,1047.4 L376.5,1047.2 L379.5,1047.1 L382.5,1046.9 L385.5,1046.8 L388.5,1046.6 L391.5,1046.4 L394.5,1046.2 L397.5,1046.0 L400.5,1045.8 L403.5,1045.6 L406.5,1045.4 L409.5,1045.2 L412.5,1044.9 L415.5,1044.7 L418.5,1044.4 L421.5,1044.2 L424.5,1043.9 L427.5,1043.6 L430.5,1043.3 L433.5,1043.0 L436.5,1042.7 L439.5,1042.4 L442.5,1042.1 L445.5,1041.8 L448.5,1041.4 L451.5,1041.1 L454.5,1040.7 L457.5,1040.3 L460.5,1039.9 L463.5,1039.5 L466.5,1039.1 L469.5,1038.7 L472.5,1038.3 L475.5,1037.8 L478.5,1037.4 L481.5,1036.9 L484.5,1036.4 L487.5,1035.9 L490.5,1035.4 L493.5,1034.9 L496.5,1034.4 L499.5,1033.9 L502.5,1033.3 L505.5,1032.8 L508.5,1032.2 L511.5,1031.6 L514.5,1031.0 L517.5,1030.4 L520.5,1029.7 L523.5,1029.1 L526.5,1028.5 L529.5,1027.8 L532.5,1027.1 L535.5,1026.4 L538.5,1025.7 L541.5,1025.0 L544.5,1024.2 L547.5,1023.5 L550.5,1022.7 L553.5,1021.9 L556.5,1021.1 L559.5,1020.3 L562.5,1019.5 L565.5,1018.7 L568.5,1017.8 L571.5,1016.9 L574.5,1016.0 L577.5,1015.1 L580.5,1014.2 L583.5,1013.3 L586.5,1012.3 L589.5,1011.3 L592.5,1010.4 L595.5,1009.4 L598.5,1008.3 L601.5,1007.3 L604.5,1006.2 L607.5,1005.2 L610.5,1004.1 L613.5,1003.0 L616.5,1001.9 L619.5,1000.7 L622.5,999.6 L625.5,998.4 L628.5,997.2 L631.5,996.0 L634.5,994.7 L637.5,993.5 L640.5,992.2 L643.5,990.9 L646.5,989.6 L649.5,988.3 L649.5,988.0 L654.0,983.0 L654.0,981.8 L657.0,980.6 L660.0,979.3 L663.0,978.0 L666.0,976.6 L669.0,975.3 L672.0,973.9 L675.0,972.6 L678.0,971.2 L681.0,969.7 L684.0,968.3 L687.0,966.8 L690.0,965.4 L693.0,963.9 L696.0,962.3 L699.0,960.8 L702.0,959.2 L705.0,957.6 L708.0,956.0 L711.0,954.3 L714.0,952.6 L717.0,950.9 L720.0,949.2 L723.0,947.4 L726.0,945.6 L729.0,943.8 L732.0,941.9 L735.0,940.0 L738.0,938.1 L741.0,936.1 L744.0,934.2 L747.0,932.1 L750.0,930.1 L753.0,928.0 L756.0,925.8 L759.0,923.7 L762.0,921.5 L765.0,919.2 L768.0,916.9 L771.0,914.6 L774.0,912.3 L777.0,909.8 L780.0,907.4 L783.0,904.9 L786.0,902.4 L789.0,899.8 L792.0,897.2 L795.0,894.5 L798.0,891.8 L801.0,889.1 L804.0,886.3 L807.0,883.4 L810.0,880.5 L813.0,877.6 L816.0,874.6 L819.0,871.6 L822.0,868.5 L825.0,865.3 L828.0,862.1 L831.0,858.9 L834.0,855.6 L837.0,852.2 L840.0,848.8 L843.0,845.4 L846.0,841.9 L849.0,838.3 L852.0,834.7 L855.0,831.0 L858.0,827.2 L861.0,823.4 L864.0,819.6 L867.0,815.6 L870.0,811.7 L873.0,807.6 L876.0,803.5 L879.0,799.3 L882.0,795.1 L885.0,790.8 L888.0,786.5 L891.0,782.0 L894.0,777.6 L897.0,773.0 L900.0,768.5 L903.0,763.8 L906.0,759.2 L909.0,754.4 L912.0,749.7 L915.0,744.9 L918.0,740.1 L921.0,735.2 L924.0,730.4 L927.0,725.5 L930.0,720.5 L933.0,715.6 L936.0,710.7 L939.0,705.7 L942.0,700.7 L945.0,695.8 L948.0,690.8 L951.0,685.8 L954.0,680.9 L957.0,675.9 L960.0,671.0 L963.0,666.1 L966.0,661.2 L969.0,656.3 L972.0,651.5 L975.0,646.7 L978.0,641.9 L981.0,637.3 L984.0,632.8 L987.0,628.4 L990.0,624.2 L993.0,620.1 L996.0,616.2 L999.0,612.5 L1002.0,609.1 L1005.0,605.8 L1008.0,602.8 L1011.0,600.0 L1014.0,597.4 L1017.0,595.0 L1020.0,592.8 L1023.0,590.8 L1026.0,588.9 L1029.0,587.2 L1032.0,585.7 L1035.0,584.3 L1038.0,583.0 L1041.0,581.8 L1044.0,580.8 L1047.0,579.9 L1050.0,579.0 L1053.0,578.3 L1056.0,577.6 L1059.0,577.1 L1062.0,576.6 L1065.0,576.1 L1068.0,575.7 L1071.0,575.3 L1074.0,575.0 L1077.0,574.7 L1080.0,574.4 L1083.0,574.2 L1086.0,573.9 L1089.0,573.7 L1092.0,573.4 L1095.0,573.2 L1098.0,572.9 L1101.0,572.6 L1104.0,572.3 L1107.0,572.0 L1110.0,571.6 L1113.0,571.1 L1116.0,570.6 L1119.0,570.1 L1122.0,569.5 L1125.0,568.8 L1128.0,568.0 L1131.0,567.2 L1134.0,566.3 L1137.0,565.2 L1140.0,564.1 L1143.0,562.8 L1146.0,561.5 L1149.0,560.0 L1152.0,558.4 L1155.0,556.6 L1158.0,554.7 L1161.0,552.7 L1164.0,550.5 L1167.0,548.2 L1170.0,545.7 L1173.0,543.0 L1176.0,540.3 L1179.0,537.3 L1182.0,534.2 L1185.0,531.0 L1188.0,527.5 L1191.0,524.0 L1194.0,520.2 L1197.0,516.4 L1200.0,512.3 L1203.0,508.1 L1206.0,503.8 L1209.0,499.2 L1212.0,494.5 L1215.0,489.7 L1218.0,484.7 L1221.0,479.6 L1224.0,474.3 L1227.0,468.9 L1230.0,463.4 L1233.0,457.7 L1236.0,451.9 L1239.0,446.1 L1242.0,440.1 L1245.0,434.0 L1248.0,427.8 L1251.0,421.6 L1254.0,415.2 L1257.0,408.8 L1260.0,402.4 L1263.0,395.8 L1266.0,389.2 L1269.0,382.6 L1272.0,375.9 L1275.0,369.2 L1278.0,362.5 L1281.0,355.7 L1284.0,348.9 L1287.0,342.1 L1290.0,335.3 L1293.0,328.5 L1296.0,321.7 L1299.0,314.9 L1302.0,308.1 L1305.0,301.3 L1308.0,294.6 L1311.0,287.9 L1314.0,281.3 L1317.0,274.7 L1320.0,268.1 L1323.0,261.6 L1326.0,255.2 L1329.0,248.8 L1332.0,242.6 L1335.0,236.4 L1338.0,230.3 L1341.0,224.4 L1344.0,218.6 L1347.0,212.9 L1350.0,207.4 L1353.0,202.0 L1356.0,196.8 L1359.0,191.8 L1362.0,187.0 L1365.0,182.5 L1368.0,178.1 L1371.0,173.9 L1374.0,170.0 L1377.0,166.3 L1380.0,162.9 L1383.0,159.8 L1386.0,157.0 L1389.0,154.4 L1392.0,152.2 L1395.0,150.2 L1398.0,148.6 L1401.0,147.4 L1404.0,146.4 L1407.0,145.9 L1410.0,145.8 L1413.0,146.2 L1416.0,147.1 L1419.0,148.6 L1422.0,150.6 L1425.0,153.3 L1428.0,156.6 L1431.0,160.6 L1434.0,165.4 L1437.0,171.0 L1440.0,177.3 L1443.0,184.5 L1446.0,192.3 L1449.0,201.0 L1452.0,210.2 L1455.0,220.2 L1458.0,230.8 L1461.0,242.0 L1464.0,253.7 L1467.0,266.0 L1470.0,278.8 L1473.0,292.1 L1476.0,305.9 L1479.0,320.1 L1482.0,334.7 L1485.0,349.6 L1488.0,364.9 L1491.0,380.6 L1494.0,396.6 L1497.0,412.9 L1500.0,429.4 L1503.0,446.3 L1506.0,463.4 L1509.0,480.7 L1512.0,498.2 L1515.0,515.9 L1518.0,533.4 L1521.0,550.7 L1524.0,567.6 L1527.0,583.8 L1530.0,599.2 L1533.0,613.9 L1536.0,628.2 L1539.0,642.2 L1542.0,656.4 L1545.0,671.1 L1548.0,686.4 L1551.0,702.7 L1554.0,720.3 L1557.0,738.5 L1560.0,755.8 L1563.0,770.8 L1566.0,783.9 L1569.0,796.1 L1572.0,807.8 L1575.0,819.2 L1578.0,830.1 L1581.0,840.7 L1584.0,850.9 L1587.0,860.7 L1590.0,870.2 L1593.0,879.4 L1596.0,888.2 L1599.0,896.7 L1602.0,904.9 L1605.0,912.7 L1608.0,920.3 L1611.0,927.6 L1614.0,934.6 L1617.0,941.3 L1620.0,947.8 L1623.0,954.0 L1626.0,959.9 L1629.0,965.6 L1632.0,971.1 L1635.0,976.3 L1638.0,981.4 L1641.0,986.2 L1644.0,990.8 L1647.0,995.3 L1650.0,999.5 L1653.0,1003.6 L1656.0,1007.5 L1659.0,1011.3 L1662.0,1014.9 L1665.0,1018.4 L1668.0,1021.7 L1671.0,1024.9 L1674.0,1028.0 L1677.0,1031.0 L1680.0,1033.9" stroke="#0a0ad2" stroke-width="5.4"/>
</g>
<path d="M1407,144.8 H1542.5" stroke="#0a0ad2" stroke-opacity="0.7" stroke-width="5.2"/>
<path d="M1393,273.3 H1538" stroke="#ff0505" stroke-width="4.6"/>
<path d="M1399,481.7 H1547.5" stroke="#0b640b" stroke-opacity="0.66" stroke-width="5.6"/>
<path d="M1420.5,565.6 H1553.5" stroke="#ff0a14" stroke-opacity="0.72" stroke-width="5.2"/>
<path d="M1440.5,647.5 H1562.5" stroke="#0b640b" stroke-opacity="0.66" stroke-width="5.2"/>
</g>
<g font-family="'Liberation Serif', 'Times New Roman', serif" font-weight="bold" fill="#0a0a0a">
<text x="122.6" y="67" font-size="52.5" text-anchor="start" textLength="68" lengthAdjust="spacingAndGlyphs">1.0</text>
<text x="124.5" y="262.2" font-size="52.5" text-anchor="start" textLength="68" lengthAdjust="spacingAndGlyphs">0.8</text>
<text x="130" y="471.7" font-size="52.5" text-anchor="start" textLength="68" lengthAdjust="spacingAndGlyphs">0.6</text>
<text x="138.4" y="681" font-size="52.5" text-anchor="start" textLength="68" lengthAdjust="spacingAndGlyphs">0.4</text>
<text x="141.8" y="889.1" font-size="52.5" text-anchor="start" textLength="68" lengthAdjust="spacingAndGlyphs">0.2</text>
<text x="147.6" y="1096.5" font-size="52.5" text-anchor="start" textLength="68" lengthAdjust="spacingAndGlyphs">0.0</text>
<text x="218.5" y="1160" font-size="52.5" text-anchor="start" textLength="82" lengthAdjust="spacingAndGlyphs">500</text>
<text x="572.7" y="1160" font-size="52.5" text-anchor="start" textLength="82" lengthAdjust="spacingAndGlyphs">550</text>
<text x="926.9" y="1160" font-size="52.5" text-anchor="start" textLength="82" lengthAdjust="spacingAndGlyphs">600</text>
<text x="1281.1" y="1160" font-size="52.5" text-anchor="start" textLength="82" lengthAdjust="spacingAndGlyphs">650</text>
<text x="1635.3" y="1160" font-size="52.5" text-anchor="start" textLength="82" lengthAdjust="spacingAndGlyphs">700</text>
<text y="1218.7" font-size="52.5"><tspan x="744" textLength="282" lengthAdjust="spacingAndGlyphs">Wavelenght,</tspan> <tspan x="1047.5" textLength="72.5" lengthAdjust="spacingAndGlyphs">nm</tspan></text>
<text transform="translate(69.2,0) rotate(-90)" font-size="52.5"><tspan x="-512" y="0" textLength="283.5" lengthAdjust="spacingAndGlyphs">Absorbance,</tspan> <tspan x="-204.5" y="0" textLength="79.5" lengthAdjust="spacingAndGlyphs">a.u.</tspan></text>
<text x="1560.5" y="161.6" font-size="46.5" text-anchor="start" textLength="113" lengthAdjust="spacingAndGlyphs">0 min</text>
<text x="1552.8" y="288.8" font-size="46.5" text-anchor="start" textLength="134.5" lengthAdjust="spacingAndGlyphs">30 min</text>
<text x="1552.8" y="500.5" font-size="46.5" text-anchor="start" textLength="134.5" lengthAdjust="spacingAndGlyphs">30 min</text>
<text x="1565.9" y="582.5" font-size="46.5" text-anchor="start" textLength="134" lengthAdjust="spacingAndGlyphs">60 min</text>
<text x="1565.9" y="663" font-size="46.5" text-anchor="start" textLength="134" lengthAdjust="spacingAndGlyphs">60 min</text>
</g>
</g>
<defs><filter id="bl" x="0" y="0" width="1744" height="1253" filterUnits="userSpaceOnUse"><feGaussianBlur stdDeviation="0.8"/></filter></defs>
</svg>
</body></html>
